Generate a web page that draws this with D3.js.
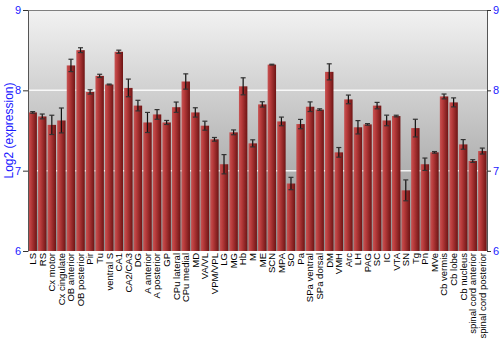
<!DOCTYPE html>
<html>
<head>
<meta charset="utf-8">
<script src="https://cdn.jsdelivr.net/npm/d3@7"></script>
<style>
  body { margin: 0; background: #fff; }
  svg { display: block; font-family: "Liberation Sans", Arial, sans-serif; }
</style>
</head>
<body>
<svg id="chart" width="500" height="350"></svg>
<script>
// Regions and their log2 expression (mean, error)
const regions = ["LS", "RS", "Cx motor", "Cx cingulate", "OB anterior", "OB posterior", "Pir", "Tu",
  "ventral S", "CA1", "CA2/CA3", "DG", "A anterior", "A posterior", "GP", "CPu lateral", "CPu medial",
  "MD", "VA/VL", "VPM/VPL", "LG", "MG", "Hb", "M", "ME", "SCN", "MPA", "SO", "Pa", "SPa ventral",
  "SPa dorsal", "DM", "VMH", "Arc", "LH", "PAG", "SC", "IC", "VTA", "SN", "Tg", "Pn", "MVe",
  "Cb vermis", "Cb lobe", "Cb nucleus", "spinal cord anterior", "spinal cord posterior"]
const means = [7.725, 7.675, 7.57, 7.625, 8.31, 8.50, 7.98, 8.18,
  8.073, 8.48, 8.03, 7.81, 7.60, 7.70, 7.60, 7.79, 8.11,
  7.725, 7.56, 7.39, 7.08, 7.477, 8.05, 7.34, 7.825, 8.32, 7.613, 6.84, 7.58, 7.796,
  7.76, 8.23, 7.228, 7.887, 7.54, 7.576, 7.81, 7.625, 7.68, 6.755, 7.53, 7.08, 7.228,
  7.924, 7.85, 7.327, 7.12, 7.244]
const errors = [0.01, 0.03, 0.12, 0.155, 0.077, 0.03, 0.027, 0.02,
  0.005, 0.02, 0.11, 0.066, 0.125, 0.06, 0.025, 0.064, 0.095,
  0.058, 0.056, 0.023, 0.12, 0.03, 0.106, 0.044, 0.033, 0.005, 0.054, 0.077, 0.058, 0.06,
  0.01, 0.10, 0.06, 0.054, 0.083, 0.01, 0.04, 0.066, 0.01, 0.13, 0.11, 0.077, 0.01,
  0.03, 0.056, 0.06, 0.017, 0.037]
const yTicks = [6, 7, 8, 9]
const gridValues = [7, 8]

const svg = d3.select('#chart')
const margin = { left: 28, right: 13, top: 10, bottom: 99 }
const width = 500 - margin.left - margin.right
const height = 350 - margin.top - margin.bottom

const data = regions.map((r, i) => ({ region: r, mean: means[i], err: errors[i] }))

// Gradients for the plot background and the bars
const defs = svg.append('defs')
const bg = defs.append('linearGradient').attr('id', 'bg')
  .attr('x1', 0).attr('y1', 0).attr('x2', 0).attr('y2', 1)
bg.append('stop').attr('offset', '0%').attr('stop-color', '#f2f2f2')
bg.append('stop').attr('offset', '100%').attr('stop-color', '#8e8e8e')

const barGrad = defs.append('linearGradient').attr('id', 'bar')
  .attr('x1', 0).attr('y1', 0).attr('x2', 1).attr('y2', 0)
barGrad.append('stop').attr('offset', '0%').attr('stop-color', '#c65454')
barGrad.append('stop').attr('offset', '30%').attr('stop-color', '#b93c3c')
barGrad.append('stop').attr('offset', '100%').attr('stop-color', '#6e1414')

const g = svg.append('g')
  .attr('transform', `translate(${margin.left},${margin.top})`)

const x = d3.scaleBand()
  .domain(regions)
  .range([0, width])
  .paddingInner(0.12)
  .paddingOuter(0.05)

const y = d3.scaleLinear()
  .domain([6, 9])
  .range([height, 0])

g.append('rect')
  .attr('width', width)
  .attr('height', height)
  .attr('fill', 'url(#bg)')

// White gridlines behind the bars
g.selectAll('.grid').data(gridValues)
  .enter().append('line')
  .attr('class', 'grid')
  .attr('x1', 0).attr('x2', width)
  .attr('y1', d => y(d)).attr('y2', d => y(d))
  .attr('stroke', '#fff')
  .attr('stroke-width', 1.5)
  .attr('stroke-opacity', 0.85)

// Bars
g.selectAll('.bar').data(data)
  .enter().append('rect')
  .attr('class', 'bar')
  .attr('x', d => x(d.region))
  .attr('y', d => y(d.mean))
  .attr('width', x.bandwidth())
  .attr('height', d => height - y(d.mean))
  .attr('fill', 'url(#bar)')

// Error bars
const eb = g.selectAll('.err').data(data)
  .enter().append('g')
  .attr('class', 'err')
  .attr('transform', d => `translate(${x(d.region) + x.bandwidth() / 2},0)`)
eb.append('line')
  .attr('y1', d => y(d.mean - d.err)).attr('y2', d => y(d.mean + d.err))
  .attr('stroke', '#111').attr('stroke-width', 1.2)
eb.selectAll('.cap').data(d => [d.mean - d.err, d.mean + d.err])
  .enter().append('line')
  .attr('class', 'cap')
  .attr('x1', -2.5).attr('x2', 2.5)
  .attr('y1', v => y(v)).attr('y2', v => y(v))
  .attr('stroke', '#333').attr('stroke-width', 1.2)

// Frame at the top
g.append('line')
  .attr('x1', 0).attr('x2', width)
  .attr('y1', 0.5).attr('y2', 0.5)
  .attr('stroke', '#808080')

// Axes on both sides
const styleAxis = (sel) => {
  sel.select('.domain').attr('stroke', '#555')
  sel.selectAll('.tick line').attr('stroke', '#333')
  sel.selectAll('.tick text')
    .attr('fill', '#1a1aff')
    .style('font-size', '11px')
}
g.append('g')
  .call(d3.axisLeft(y).tickValues(yTicks).tickFormat(d3.format('d')).tickSize(5).tickSizeOuter(0).tickPadding(2))
  .call(styleAxis)
g.append('g')
  .attr('transform', `translate(${width},0)`)
  .call(d3.axisRight(y).tickValues(yTicks).tickFormat(d3.format('d')).tickSize(4).tickSizeOuter(0).tickPadding(2))
  .call(styleAxis)

// Category labels, rotated
const xAxis = g.append('g')
  .attr('transform', `translate(0,${height})`)
  .call(d3.axisBottom(x).tickSize(0).tickPadding(0))
xAxis.select('.domain').remove()
xAxis.selectAll('.tick text')
  .attr('transform', 'rotate(-90)')
  .attr('x', -2)
  .attr('y', 0)
  .attr('dy', '0.35em')
  .style('text-anchor', 'end')
  .style('font-size', '9.5px')
  .attr('fill', '#000')

// Y-axis title
svg.append('text')
  .attr('transform', `translate(13,${margin.top + height / 2}) rotate(-90)`)
  .attr('text-anchor', 'middle')
  .attr('fill', '#1a1aff')
  .style('font-size', '12px')
  .text('Log2 (expression)')
</script>
</body>
</html>
